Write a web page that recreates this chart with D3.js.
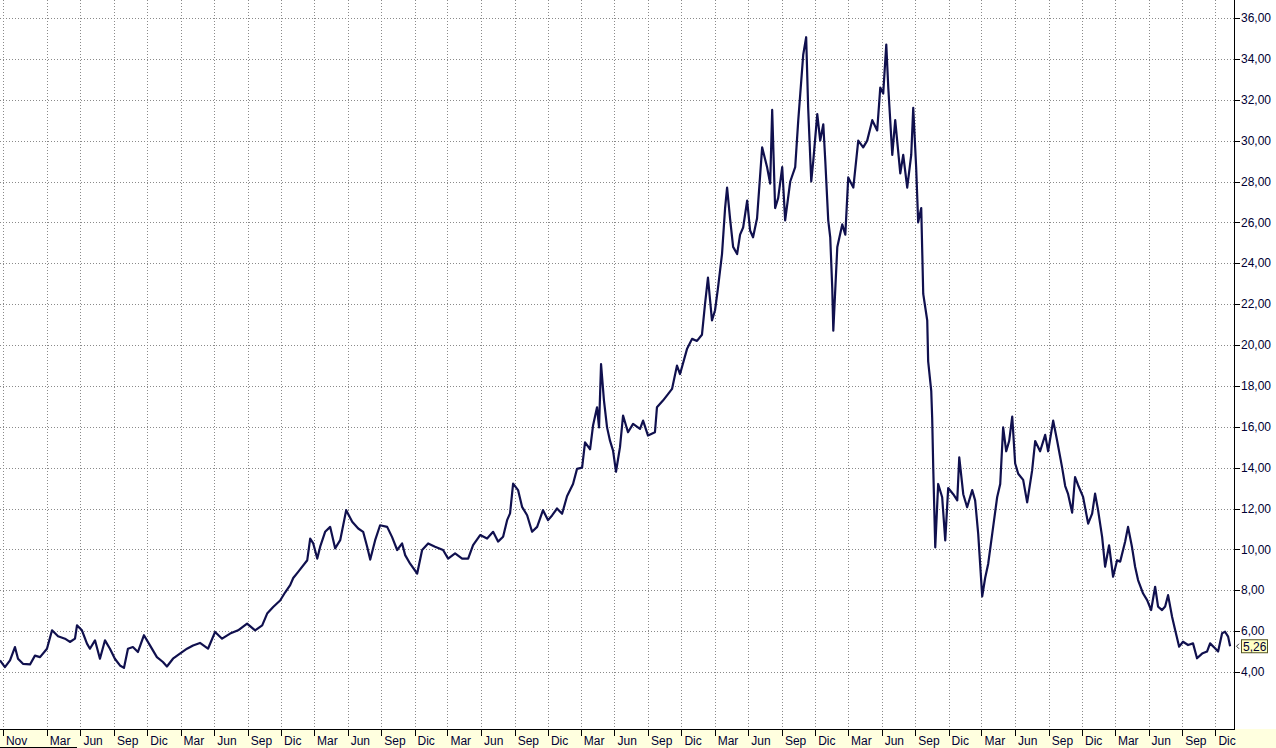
<!DOCTYPE html>
<html><head><meta charset="utf-8">
<script src="https://cdn.jsdelivr.net/npm/d3@7"></script>
<style>html,body{margin:0;padding:0;background:#fff;overflow:hidden}</style>
</head><body><svg id="chart" width="1276" height="748"></svg>
<script>
// dates as decimal years
const dates = [2002.811,2002.848,2002.886,2002.923,2002.946,2002.983,2003.036,2003.073,2003.111,2003.163,2003.201,2003.246,2003.298,2003.335,2003.373,2003.388,2003.425,2003.463,2003.485,2003.523,2003.560,2003.598,2003.635,2003.672,2003.710,2003.740,2003.770,2003.807,2003.845,2003.890,2003.935,2003.987,2004.032,2004.062,2004.107,2004.159,2004.212,2004.257,2004.309,2004.369,2004.422,2004.474,2004.534,2004.594,2004.661,2004.721,2004.774,2004.811,2004.856,2004.908,2004.946,2004.983,2005.006,2005.043,2005.111,2005.133,2005.156,2005.186,2005.208,2005.245,2005.283,2005.320,2005.358,2005.403,2005.448,2005.493,2005.530,2005.560,2005.583,2005.620,2005.657,2005.710,2005.747,2005.785,2005.822,2005.845,2005.882,2005.935,2005.972,2006.017,2006.069,2006.129,2006.167,2006.219,2006.272,2006.317,2006.354,2006.407,2006.459,2006.504,2006.541,2006.579,2006.609,2006.631,2006.654,2006.691,2006.721,2006.759,2006.796,2006.834,2006.878,2006.916,2006.946,2006.983,2007.021,2007.058,2007.103,2007.133,2007.171,2007.193,2007.231,2007.253,2007.283,2007.298,2007.313,2007.335,2007.358,2007.380,2007.403,2007.425,2007.455,2007.478,2007.515,2007.553,2007.605,2007.628,2007.665,2007.717,2007.732,2007.777,2007.815,2007.845,2007.882,2007.905,2007.957,2007.995,2008.032,2008.069,2008.092,2008.114,2008.144,2008.167,2008.189,2008.219,2008.242,2008.257,2008.279,2008.302,2008.332,2008.354,2008.377,2008.407,2008.429,2008.451,2008.481,2008.519,2008.556,2008.579,2008.594,2008.616,2008.639,2008.669,2008.691,2008.729,2008.766,2008.789,2008.826,2008.848,2008.863,2008.886,2008.901,2008.931,2008.953,2008.976,2008.991,2009.013,2009.028,2009.043,2009.051,2009.081,2009.118,2009.141,2009.163,2009.201,2009.238,2009.275,2009.305,2009.343,2009.380,2009.403,2009.425,2009.448,2009.463,2009.493,2009.515,2009.553,2009.575,2009.605,2009.635,2009.650,2009.672,2009.687,2009.710,2009.725,2009.755,2009.762,2009.785,2009.792,2009.800,2009.815,2009.837,2009.867,2009.890,2009.912,2009.950,2009.980,2009.995,2010.025,2010.054,2010.092,2010.114,2010.137,2010.167,2010.189,2010.212,2010.242,2010.279,2010.302,2010.324,2010.347,2010.369,2010.392,2010.414,2010.437,2010.474,2010.504,2010.541,2010.564,2010.601,2010.639,2010.661,2010.699,2010.729,2010.766,2010.789,2010.811,2010.841,2010.863,2010.886,2010.923,2010.961,2010.991,2011.013,2011.036,2011.066,2011.088,2011.118,2011.148,2011.178,2011.201,2011.238,2011.260,2011.290,2011.313,2011.335,2011.373,2011.403,2011.433,2011.463,2011.485,2011.515,2011.538,2011.560,2011.590,2011.613,2011.643,2011.672,2011.710,2011.747,2011.777,2011.815,2011.852,2011.875,2011.912,2011.935,2011.965,2011.987,2012.010,2012.025];
const prices = [4.57,4.24,4.57,5.22,4.65,4.4,4.37,4.8,4.73,5.14,6.04,5.75,5.63,5.47,5.63,6.28,6.04,5.39,5.14,5.55,4.65,5.55,5.14,4.65,4.32,4.2,5.14,5.22,4.98,5.8,5.3,4.73,4.49,4.27,4.65,4.9,5.14,5.3,5.42,5.14,5.96,5.63,5.88,6.04,6.37,6.04,6.28,6.86,7.18,7.5,7.9,8.25,8.6,8.9,9.47,10.53,10.29,9.55,10.13,10.86,11.1,10.05,10.45,11.92,11.35,11.02,10.86,10.13,9.5,10.45,11.18,11.1,10.6,9.97,10.29,9.72,9.3,8.82,9.97,10.29,10.13,9.97,9.55,9.8,9.55,9.55,10.21,10.7,10.53,10.86,10.38,10.62,11.43,11.76,13.22,12.9,12.08,11.67,10.86,11.1,11.92,11.43,11.66,12.0,11.74,12.6,13.2,13.94,14.0,15.24,14.9,16.06,16.95,15.97,19.07,17.28,15.97,15.32,14.83,13.8,15.0,16.55,15.73,16.14,15.9,16.3,15.57,15.73,16.95,17.28,17.6,17.85,18.99,18.58,19.8,20.3,20.2,20.5,22.0,23.3,21.2,21.7,22.8,24.45,26.7,27.7,26.2,24.8,24.45,25.4,25.75,27.06,25.6,25.27,26.2,29.67,28.7,27.9,31.5,26.7,27.2,28.7,26.1,28.0,28.7,31.0,34.2,35.06,31.6,28.0,29.0,31.3,30.0,30.8,29.0,26.1,25.27,22.8,20.7,24.8,25.9,25.4,28.2,27.7,30.0,29.67,30.0,31.0,30.5,32.6,32.3,34.7,32.6,29.3,31.0,28.4,29.3,27.7,29.3,31.6,28.7,26.0,26.7,22.5,21.2,19.2,17.76,16.45,14.0,10.1,13.2,12.55,10.44,13.0,12.7,12.4,14.5,12.7,12.06,12.9,12.4,10.76,7.7,8.6,9.3,10.76,12.55,13.2,15.97,14.8,15.3,16.5,14.2,13.7,13.4,12.3,13.85,15.3,14.8,15.6,14.8,16.3,15.3,14.0,13.1,12.7,11.8,13.54,13.14,12.57,11.26,11.75,12.73,11.9,10.6,9.15,10.2,8.66,9.47,9.4,10.37,11.1,10.1,9.15,8.5,7.84,7.52,7.03,8.17,7.2,7.03,7.2,7.76,6.7,6.05,5.24,5.48,5.32,5.4,4.67,4.9,5.0,5.4,5.16,5.0,5.9,5.97,5.73,5.26];
const priceTicks = [4,6,8,10,12,14,16,18,20,22,24,26,28,30,32,34,36];
const monthNames = ["Ene","Feb","Mar","Abr","May","Jun","Jul","Ago","Sep","Oct","Nov","Dic"];
const tickMonths = [2,5,8,11];
const firstTick = [2002,10];
const quarterlyFrom = [2003,2];
const domainYears = [2002.811, 2012.054];
const lastValue = 5.26;

function yearToDate(t){
  const y = Math.floor(t);
  const s = Date.UTC(y,0,1), e = Date.UTC(y+1,0,1);
  return new Date(s + (t-y)*(e-s));
}
const data = dates.map((t,i)=>({date:yearToDate(t), v:prices[i]}));

const W = 1276, H = 748;
const plotR = 1234, bandTop = 729;
const svg = d3.select("#chart");

const x = d3.scaleUtc().domain(domainYears.map(yearToDate)).range([0, plotR]);
const y = d3.scaleLinear().domain([4,36]).range([672,18]);

const loc = d3.formatLocale({decimal:",", thousands:".", grouping:[3], currency:["","€"]});
const fmt = loc.format(".2f");

const qStart = new Date(Date.UTC(quarterlyFrom[0], quarterlyFrom[1], 1));
const xTicks = d3.utcMonth.range(yearToDate(domainYears[0]), yearToDate(domainYears[1]))
  .filter(d => (d >= qStart && tickMonths.includes(d.getUTCMonth())) ||
               (d.getUTCFullYear()===firstTick[0] && d.getUTCMonth()===firstTick[1]));

// background
svg.append("rect").attr("width",W).attr("height",H).attr("fill","#fff");

// grid
const grid = svg.append("g").attr("stroke","#8a8a8a").attr("stroke-dasharray","1,2").attr("stroke-width",1);
grid.selectAll(".h").data(priceTicks).join("line")
  .attr("x1",0).attr("x2",plotR)
  .attr("y1",d=>Math.round(y(d))+0.5).attr("y2",d=>Math.round(y(d))+0.5);
grid.selectAll(".v").data(xTicks).join("line")
  .attr("x1",d=>Math.round(x(d))+0.5).attr("x2",d=>Math.round(x(d))+0.5)
  .attr("y1",0).attr("y2",bandTop);

// price line
svg.append("clipPath").attr("id","clip").append("rect").attr("x",0).attr("y",0).attr("width",plotR).attr("height",bandTop);
svg.append("path").datum(data)
  .attr("clip-path","url(#clip)")
  .attr("fill","none").attr("stroke","#10104e").attr("stroke-width",2.2)
  .attr("stroke-linejoin","round")
  .attr("d", d3.line().x(d=>x(d.date)).y(d=>y(d.v)));

// right axis
svg.append("line").attr("x1",plotR+0.5).attr("x2",plotR+0.5).attr("y1",0).attr("y2",bandTop).attr("stroke","#000");
const ra = svg.append("g");
ra.selectAll("line").data(priceTicks).join("line")
  .attr("x1",plotR).attr("x2",plotR+6)
  .attr("y1",d=>Math.round(y(d))+0.5).attr("y2",d=>Math.round(y(d))+0.5)
  .attr("stroke","#000");
ra.selectAll("text").data(priceTicks).join("text")
  .attr("x",plotR+7).attr("y",d=>y(d)).attr("dy","0.35em")
  .attr("font-family","Liberation Sans, Arial, sans-serif").attr("font-size",12)
  .attr("fill","#000033").text(d=>fmt(d));

// last value marker
const ly = y(lastValue);
svg.append("path").attr("d",`M${plotR+5},${ly-2.5} L${plotR+2.5},${ly} L${plotR+5},${ly+2.5}`)
  .attr("fill","none").attr("stroke","#333").attr("stroke-width",1);
svg.append("rect").attr("x",plotR+7.5).attr("y",ly-6.5).attr("width",26).attr("height",13)
  .attr("fill","#ffffc4").attr("stroke","#555522").attr("stroke-width",1);
svg.append("text").attr("x",plotR+9).attr("y",ly).attr("dy","0.36em")
  .attr("font-family","Liberation Sans, Arial, sans-serif").attr("font-size",12)
  .attr("fill","#000033").text(fmt(lastValue));

// bottom band
svg.append("rect").attr("x",0).attr("y",bandTop).attr("width",W).attr("height",H-bandTop).attr("fill","#ffffdf");
svg.append("line").attr("x1",0).attr("x2",plotR+1).attr("y1",bandTop+0.5).attr("y2",bandTop+0.5).attr("stroke","#000");
const ba = svg.append("g");
ba.selectAll("line").data(xTicks).join("line")
  .attr("x1",d=>Math.round(x(d))+0.5).attr("x2",d=>Math.round(x(d))+0.5)
  .attr("y1",bandTop).attr("y2",bandTop+7).attr("stroke","#000");
ba.selectAll("text").data(xTicks).join("text")
  .attr("x",d=>x(d)+3).attr("y",745)
  .attr("font-family","Liberation Sans, Arial, sans-serif").attr("font-size",12)
  .attr("fill","#000033").text(d=>monthNames[d.getUTCMonth()]);
svg.append("line").attr("x1",0).attr("x2",77).attr("y1",747.5).attr("y2",747.5).attr("stroke","#000");
</script></body></html>
